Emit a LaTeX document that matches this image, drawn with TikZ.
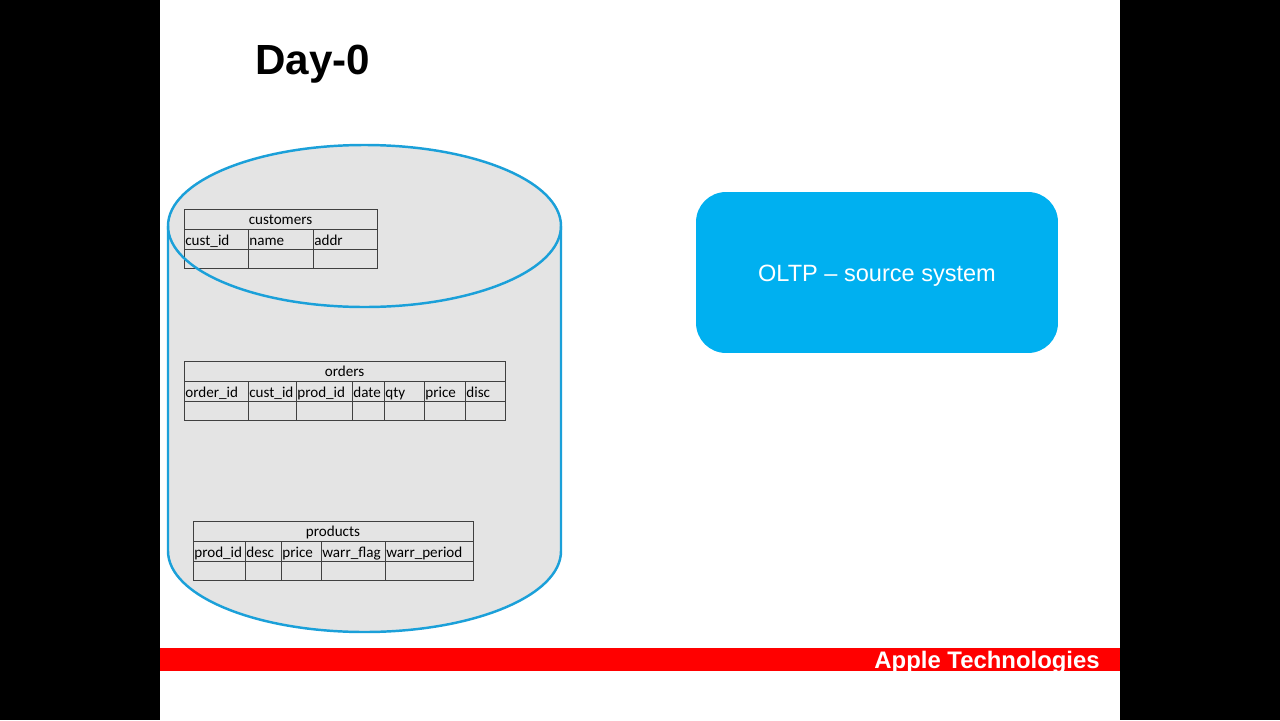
\documentclass[tikz,border=0pt]{standalone}
\usepackage{fontspec}
\setmainfont{Liberation Sans}
\newfontfamily\tabfont{Carlito}
\usetikzlibrary{positioning}
\definecolor{cylblue}{RGB}{27,160,217}
\definecolor{cylgray}{RGB}{228,228,228}
\definecolor{oltpblue}{RGB}{0,176,240}
\definecolor{barred}{RGB}{255,0,0}

\begin{document}
\begin{tikzpicture}[
    x=0.02cm, y=-0.02cm,
    cell/.style={draw=black!75, line width=0.5pt},
    tabtitle/.style={font=\tabfont\fontsize{8.6}{10}\selectfont, inner sep=0pt, anchor=base},
    tabhead/.style={font=\tabfont\fontsize{8.6}{10}\selectfont, inner sep=0pt, anchor=base west},
    oltp/.style={rectangle, rounded corners=0.6cm, fill=oltpblue, minimum width=7.24cm, minimum height=3.22cm, text height=13.2pt, text=white, font=\fontsize{13.4}{16}\selectfont},
    cyl/.style={draw=cylblue, line width=1.4pt}
]

% Slide background
\useasboundingbox (0,0) rectangle (1280,720);
\fill[black] (0,0) rectangle (1280,720);
\fill[white] (160,0) rectangle (1120,720);

% Title
\node[anchor=base west, inner sep=0pt, font=\bfseries\fontsize{24}{28}\selectfont] (title) at (255,74) {Day-0};

% Database cylinder
\fill[cylgray] (168,226) -- (168,551) arc[start angle=180, end angle=0, x radius=196.5, y radius=81]
    -- (561,226) arc[start angle=0, end angle=-180, x radius=196.5, y radius=81] -- cycle;
\draw[cyl] (168,226) -- (168,551) arc[start angle=180, end angle=0, x radius=196.5, y radius=81] -- (561,226);

% customers
\draw[cell] (184,209) rectangle (377,229);
\node[tabtitle] (cust-title) at (280.5,224.5) {customers};
\foreach \xa/\xb/\txt [count=\i] in {184/248/cust\_id, 248/313/name, 313/377/addr} {
  \draw[cell] (\xa,229) rectangle (\xb,249) (\xa,249) rectangle (\xb,268);
  \node[tabhead] (cust-h\i) at (\xa+1,245) {\txt};
}

% top of the cylinder
\draw[cyl] (364.5,226) ellipse[x radius=196.5, y radius=81];

% orders
\draw[cell] (184,361) rectangle (505,381);
\node[tabtitle] (ord-title) at (344.5,376.5) {orders};
\foreach \xa/\xb/\txt [count=\i] in {184/248/order\_id, 248/296/cust\_id, 296/352/prod\_id, 352/384/date, 384/424/qty, 424/465/price, 465/505/disc} {
  \draw[cell] (\xa,381) rectangle (\xb,401) (\xa,401) rectangle (\xb,420);
  \node[tabhead] (ord-h\i) at (\xa+1,397) {\txt};
}

% products
\draw[cell] (193,521) rectangle (473,541);
\node[tabtitle] (prod-title) at (333,536.5) {products};
\foreach \xa/\xb/\txt [count=\i] in {193/245/prod\_id, 245/281/desc, 281/321/price, 321/385/warr\_flag, 385/473/warr\_period} {
  \draw[cell] (\xa,541) rectangle (\xb,561) (\xa,561) rectangle (\xb,580);
  \node[tabhead] (prod-h\i) at (\xa+1,557) {\txt};
}

% Source system
\node[oltp] (oltp) at (877,272.5) {OLTP -- source system};

% Footer
\fill[barred] (160,648) rectangle (1120,671);
\node[anchor=base east, inner sep=0pt, text=white, font=\bfseries\fontsize{13.6}{16}\selectfont] (footer) at (1100,668) {Apple Technologies};

\end{tikzpicture}
\end{document}
